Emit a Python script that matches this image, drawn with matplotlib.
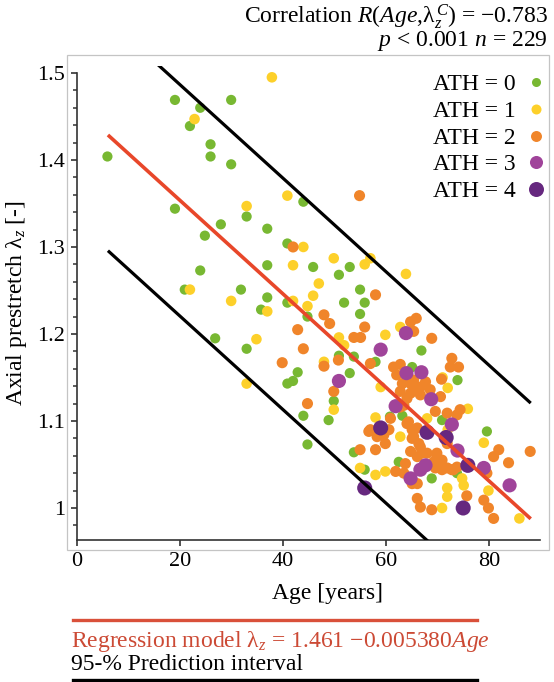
import matplotlib
matplotlib.use('Agg')
import matplotlib.pyplot as plt
from matplotlib.lines import Line2D
from matplotlib.patches import Rectangle
from matplotlib.ticker import MultipleLocator, FuncFormatter
import numpy as np

plt.rcParams['font.family'] = ['Liberation Serif', 'DejaVu Serif']
plt.rcParams['mathtext.fontset'] = 'custom'
plt.rcParams['mathtext.rm'] = 'Liberation Serif'
plt.rcParams['mathtext.it'] = 'Liberation Serif:italic'
plt.rcParams['mathtext.bf'] = 'Liberation Serif:bold'

# ---------------- data ----------------
ath0_age = [5.9, 19.0, 23.9, 21.9, 29.9, 25.9, 25.9, 29.9, 19.0, 27.9, 24.8, 32.9, 36.9, 43.9, 40.8,
            36.9, 23.9, 20.9, 31.8, 36.9, 40.8, 35.7, 44.7, 26.8, 32.9, 42.8, 40.8, 41.9, 43.9, 44.7,
            45.8, 52.9, 50.8, 54.9, 51.8, 55.8, 54.9, 66.8, 50.8, 53.7, 52.9, 49.8, 48.8, 57.9, 65.0,
            73.8, 70.8, 63.1, 79.5, 68.8, 62.4, 73.7, 53.7, 55.8, 60.7]
ath0_lam = [1.404, 1.469, 1.460, 1.439, 1.469, 1.418, 1.404, 1.395, 1.344, 1.326, 1.313, 1.335, 1.321, 1.352, 1.304,
            1.279, 1.273, 1.251, 1.251, 1.242, 1.236, 1.228, 1.220, 1.195, 1.183, 1.156, 1.143, 1.146, 1.106, 1.073,
            1.277, 1.277, 1.268, 1.251, 1.236, 1.236, 1.223, 1.181, 1.175, 1.174, 1.155, 1.123, 1.101, 1.168, 1.162,
            1.147, 1.101, 1.106, 1.088, 1.034, 1.053, 1.040, 1.064, 1.044, 1.105]

ath1_age = [37.8, 22.8, 40.8, 32.9, 43.9, 41.9, 21.9, 29.9, 41.9, 36.9, 44.7, 34.8, 32.9, 49.8, 56.9,
            55.8, 63.8, 46.9, 45.8, 50.8, 51.8, 59.8, 62.7, 47.9, 49.8, 71.9, 58.9, 75.8, 67.9, 57.9,
            71.9, 62.7, 78.9, 74.7, 75.0, 57.9, 59.8, 71.8, 71.8, 70.8, 79.8, 85.8, 54.9, 70.9]
ath1_lam = [1.495, 1.447, 1.359, 1.347, 1.300, 1.279, 1.251, 1.238, 1.238, 1.226, 1.232, 1.194, 1.143, 1.287, 1.287,
            1.280, 1.269, 1.258, 1.244, 1.196, 1.187, 1.199, 1.208, 1.168, 1.113, 1.138, 1.139, 1.114, 1.103, 1.104,
            1.090, 1.082, 1.075, 1.034, 1.026, 1.038, 1.042, 1.023, 1.013, 1.000, 1.020, 0.988, 1.046, 1.150]

ath2_age = [41.9, 54.8, 42.8, 43.9, 39.8, 44.7, 57.9, 47.9, 49.0, 55.8, 53.7, 55.0, 65.3, 65.8, 64.7,
            68.8, 56.9, 47.9, 50.7, 49.8, 62.7, 72.7, 72.4, 74.0, 62.0, 70.7, 64.7, 66.6, 62.7, 68.5,
            66.6, 64.0, 63.4, 73.7, 60.8, 64.3, 56.9, 60.5, 65.0, 66.0, 58.2, 59.8, 57.9, 65.0, 66.3,
            81.8, 80.8, 87.9, 83.7, 79.5, 66.9, 69.8, 63.7, 65.0, 70.1, 71.8, 73.7, 61.8, 75.6, 66.0,
            66.6, 68.8, 78.9, 79.8, 80.8, 54.9, 56.6,
            64.7, 66.0, 69.2, 70.8, 63.4, 69.5, 70.8, 66.0, 72.7,
            61.4, 65.3, 65.6, 67.6, 70.5, 69.5, 71.8, 74.3,
            63.1, 64.7, 62.7, 64.0, 65.3, 66.6, 67.9, 71.8, 69.8, 73.0, 59.5]
ath2_lam = [1.300, 1.359, 1.205, 1.183, 1.167, 1.120, 1.245, 1.222, 1.212, 1.208, 1.196, 1.196, 1.203, 1.218, 1.214,
            1.195, 1.166, 1.163, 1.170, 1.134, 1.165, 1.172, 1.162, 1.162, 1.153, 1.148, 1.143, 1.139, 1.134, 1.136,
            1.130, 1.126, 1.118, 1.107, 1.103, 1.099, 1.090, 1.090, 1.090, 1.092, 1.082, 1.074, 1.067, 1.080, 1.074,
            1.067, 1.059, 1.065, 1.052, 1.040, 1.063, 1.063, 1.051, 1.028, 1.051, 1.046, 1.047, 1.042, 1.014, 1.011,
            1.001, 0.998, 1.009, 1.000, 0.988, 1.067, 1.088,
            1.065, 1.059, 1.053, 1.055, 1.040, 1.046, 1.044, 1.028, 1.044,
            1.162, 1.147, 1.136, 1.145, 1.128, 1.111, 1.109, 1.113,
            1.143, 1.132, 1.116, 1.097, 1.082, 1.070, 1.063, 1.074, 1.059, 1.044, 1.084]

ath3_age = [63.8, 58.9, 50.8, 63.9, 66.8, 68.7, 61.8, 72.7, 73.8, 78.9, 83.9, 67.6, 66.6, 64.7]
ath3_lam = [1.201, 1.182, 1.146, 1.155, 1.156, 1.125, 1.117, 1.096, 1.066, 1.046, 1.026, 1.049, 1.044, 1.034]

ath4_age = [58.9, 67.9, 71.6, 75.8, 74.9, 55.8]
ath4_lam = [1.092, 1.087, 1.081, 1.049, 1.000, 1.023]

ath_labels = ['ATH = 0', 'ATH = 1', 'ATH = 2', 'ATH = 3', 'ATH = 4']

# regression model and prediction interval
intercept = 1.461
slope = -0.005380
pi_half_width = 0.133
fit_age_range = [6.0, 88.0]
corr_r = -0.783
n_samples = 229

# ---------------- styling ----------------
colors = ['#78b832', '#fdd02a', '#f0852a', '#a0449a', '#66287f']
scatter_sizes = [54, 58, 64, 104, 118]
legend_msizes = [6.5, 7.2, 7.9, 9.4, 10.8]
red = '#e8472a'

W, H = 554, 682
fig = plt.figure(figsize=(W / 100, H / 100), dpi=100)
fig.patch.set_facecolor('white')


def fx(x):
    return x / W


def fy(y):
    return 1 - y / H


ax = fig.add_axes([fx(77), fy(540), (540 - 77) / W, (540 - 66) / H])
ax.set_xlim(0, 89.8)
ax.set_ylim(0.9632, 1.508)

groups = [(ath0_age, ath0_lam), (ath1_age, ath1_lam), (ath2_age, ath2_lam),
          (ath3_age, ath3_lam), (ath4_age, ath4_lam)]
for i, (a, l) in enumerate(groups):
    ax.scatter(a, l, s=scatter_sizes[i], color=colors[i], edgecolors='none', zorder=3 + i)

xa = np.array(fit_age_range)
yfit = intercept + slope * xa
ax.plot(xa, yfit, color=red, lw=2.6, zorder=10, solid_capstyle='butt')
ax.plot(xa, yfit + pi_half_width, color='black', lw=2.3, zorder=10, solid_capstyle='butt')
ax.plot(xa, yfit - pi_half_width, color='black', lw=2.3, zorder=10, solid_capstyle='butt')

for s in ['top', 'right']:
    ax.spines[s].set_visible(False)
for s in ['left', 'bottom']:
    ax.spines[s].set_color('#333333')
    ax.spines[s].set_linewidth(1.2)
ax.spines['left'].set_bounds(0.9632, 1.5)

ax.set_xticks([0, 20, 40, 60, 80])
ax.yaxis.set_major_locator(MultipleLocator(0.1))
ax.yaxis.set_minor_locator(MultipleLocator(0.02))
ax.yaxis.set_major_formatter(FuncFormatter(lambda v, p: f'{v:g}'))
ax.tick_params(axis='both', which='major', direction='out', length=4.5, width=1.2,
               color='#333333', labelsize=16, pad=4)
ax.tick_params(axis='y', which='minor', direction='out', length=3, width=1.1, color='#333333')
ax.set_facecolor('none')

ax.set_xlabel('Age [years]', fontsize=17, labelpad=3)
ax.xaxis.set_label_coords(0.54, -0.09)
ax.set_ylabel('Axial prestretch $\\mathrm{λ}_{z}$ [-]', fontsize=17, labelpad=6)

# legend
handles = [Line2D([0], [0], marker='o', ls='none', color=colors[i], markeredgewidth=0,
                  markersize=legend_msizes[i]) for i in range(5)]
fig.legend(handles, ath_labels, loc='upper right', bbox_to_anchor=(fx(556), fy(62)),
           frameon=False, markerfirst=False, handlelength=0.7, handletextpad=0.5,
           labelspacing=0.22, borderpad=0, fontsize=17)

# gray frame of the panel
fig.patches.append(Rectangle((fx(67), fy(550)), (549 - 67) / W, (550 - 55) / H,
                             transform=fig.transFigure, fill=False, ec='#c4c4c4', lw=0.9, zorder=0))

# top annotations
fig.text(fx(548), fy(17), 'Correlation $R$($Age$,$\\mathrm{λ}_{z}^{\\,C}$) = −%.3f' % abs(corr_r),
         ha='right', va='center', fontsize=17)
fig.text(fx(548), fy(41), '$p$ < 0.001 $n$ = %d' % n_samples, ha='right', va='center', fontsize=17)

# bottom legend of lines
fig.add_artist(Line2D([fx(73), fx(477)], [fy(620), fy(620)], color='#d9503a', lw=2.4,
                      transform=fig.transFigure))
fig.text(fx(71), fy(642), 'Regression model $\\mathrm{λ}_{z}$ = %.3f −%.6f$Age$' % (intercept, abs(slope)),
         ha='left', va='center', fontsize=17, color='#cc4a35')
fig.text(fx(71), fy(665), '95-% Prediction interval', ha='left', va='center', fontsize=17, color='black')
fig.add_artist(Line2D([fx(73), fx(477)], [fy(680), fy(680)], color='black', lw=2.4,
                      transform=fig.transFigure))

fig.savefig('out.png', dpi=100, facecolor='white')
